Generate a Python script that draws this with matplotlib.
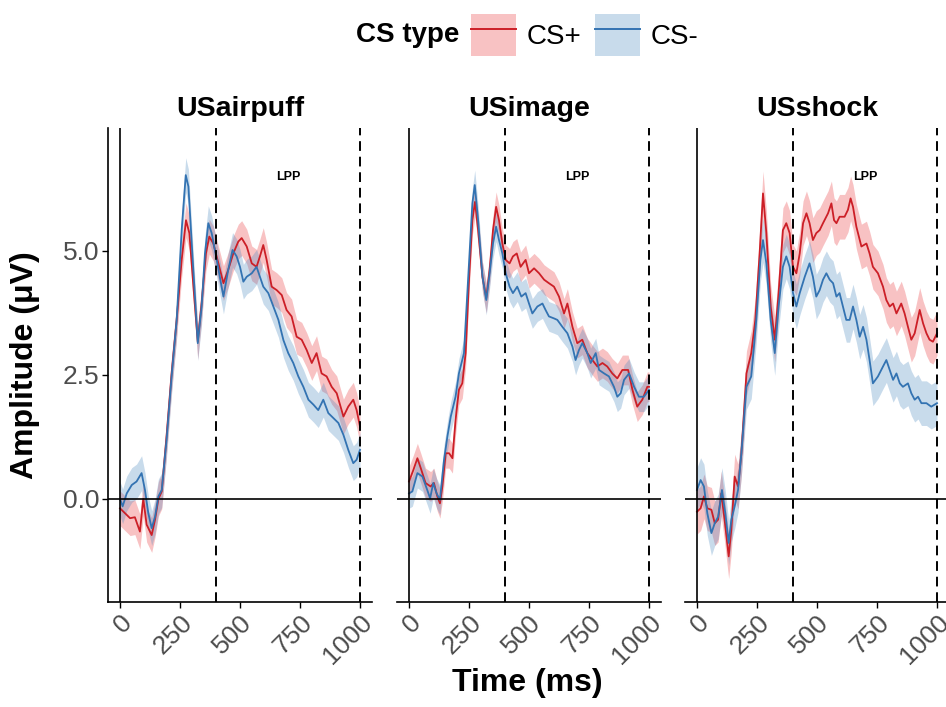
import matplotlib
matplotlib.use("Agg")
import matplotlib.pyplot as plt
from matplotlib.patches import Patch
from matplotlib.lines import Line2D
import numpy as np

plt.rcParams['font.family'] = ['Liberation Sans', 'DejaVu Sans']

# ---- data (time in ms, amplitude in uV) ----
panels = ['USairpuff', 'USimage', 'USshock']
conditions = ['CS+', 'CS-']

airpuff_plus_t = [0, 21, 42, 62, 83, 97, 111, 132, 146, 160, 174, 194, 215, 236, 257, 275, 289, 306, 324,
                  340, 358, 372, 389, 410, 431, 451, 472, 493, 507, 528, 549, 569, 583, 597, 611, 632, 653,
                  674, 694, 715, 736, 757, 778, 799, 819, 840, 861, 882, 903, 931, 951, 972, 986, 1000]
airpuff_plus_v = [-0.19, -0.29, -0.39, -0.37, -0.66, 0.0, -0.52, -0.73, -0.42, 0.0, 0.15, 1.26, 2.53, 3.6,
                  4.82, 5.62, 5.36, 4.28, 3.17, 3.94, 4.95, 5.29, 5.15, 4.75, 4.35, 4.62, 4.95, 5.19, 5.26,
                  5.09, 4.75, 4.68, 4.89, 5.12, 4.82, 4.28, 4.21, 4.11, 3.81, 3.68, 3.27, 3.21, 3.0, 2.74,
                  2.94, 2.53, 2.47, 2.26, 2.13, 1.66, 1.86, 2.0, 1.79, 1.46]
airpuff_minus_t = [0, 11, 28, 49, 69, 90, 104, 118, 132, 146, 160, 174, 194, 215, 236, 257, 274, 285, 303,
                   324, 340, 354, 368, 382, 403, 431, 451, 469, 486, 500, 514, 528, 549, 569, 583, 597, 618,
                   639, 660, 681, 701, 722, 743, 764, 785, 806, 826, 847, 868, 889, 910, 931, 951, 972, 986,
                   1000]
airpuff_minus_v = [0.0, -0.15, 0.11, 0.28, 0.35, 0.52, 0.18, -0.29, -0.59, -0.36, 0.05, 0.18, 1.19, 2.47,
                   3.6, 5.42, 6.53, 6.3, 4.82, 3.14, 3.87, 4.95, 5.56, 5.36, 4.82, 4.08, 4.62, 5.02, 4.89,
                   4.68, 4.38, 4.48, 4.55, 4.68, 4.48, 4.28, 4.15, 3.88, 3.61, 3.2, 2.94, 2.74, 2.47, 2.26,
                   2.0, 1.9, 1.79, 2.0, 1.73, 1.63, 1.53, 1.29, 0.99, 0.72, 0.79, 0.99]

image_plus_t = [0, 18, 35, 49, 69, 90, 104, 118, 129, 139, 153, 167, 181, 194, 208, 222, 236, 250, 264, 275,
                288, 306, 322, 336, 350, 363, 375, 389, 403, 419, 433, 449, 465, 486, 500, 521, 542, 563,
                583, 604, 625, 646, 660, 681, 701, 722, 743, 764, 785, 806, 826, 847, 868, 889, 913, 931,
                951, 972, 993, 1000]
image_plus_v = [0.35, 0.58, 0.82, 0.62, 0.32, 0.25, 0.32, 0.05, -0.09, 0.25, 0.92, 0.92, 0.82, 1.59, 2.2,
                2.33, 2.94, 4.42, 5.62, 5.99, 5.42, 4.48, 4.05, 4.62, 5.42, 5.89, 5.62, 5.15, 4.82, 4.75,
                4.89, 4.95, 4.68, 4.82, 4.55, 4.65, 4.55, 4.42, 4.35, 4.28, 4.08, 3.74, 3.94, 3.47, 3.14,
                3.21, 2.94, 2.8, 2.67, 2.74, 2.67, 2.53, 2.43, 2.6, 2.6, 2.2, 1.86, 2.0, 2.26, 2.26]
image_minus_t = [0, 14, 35, 56, 76, 88, 101, 115, 129, 146, 160, 174, 194, 208, 229, 250, 264, 274, 288,
                 306, 322, 336, 350, 363, 375, 389, 403, 419, 433, 451, 468, 486, 500, 514, 535, 556, 569,
                 583, 604, 618, 639, 660, 681, 694, 708, 722, 743, 757, 778, 792, 813, 833, 854, 868, 882,
                 896, 917, 938, 958, 979, 1000]
image_minus_v = [0.11, 0.15, 0.52, 0.45, 0.18, 0.01, 0.32, 0.11, -0.02, 0.79, 1.26, 1.66, 2.06, 2.53, 2.94,
                 4.75, 5.96, 6.33, 5.62, 4.48, 4.01, 4.55, 5.15, 5.49, 5.22, 4.95, 4.55, 4.28, 4.15, 4.28,
                 4.08, 4.15, 3.94, 3.74, 3.88, 3.94, 3.81, 3.68, 3.64, 3.61, 3.47, 3.34, 3.07, 2.8, 3.0,
                 3.14, 2.94, 2.74, 2.94, 2.6, 2.53, 2.47, 2.26, 2.06, 2.13, 2.4, 2.53, 2.26, 2.06, 2.06, 2.2]

shock_plus_t = [0, 15, 29, 43, 60, 74, 88, 101, 115, 132, 143, 157, 171, 185, 206, 226, 243, 261, 275, 289,
                307, 324, 340, 358, 372, 386, 400, 414, 428, 442, 456, 469, 483, 497, 511, 525, 546, 560,
                571, 581, 594, 615, 629, 640, 650, 664, 685, 706, 719, 733, 754, 775, 789, 803, 817, 831,
                851, 865, 879, 893, 907, 928, 942, 956, 969, 983, 1000]
shock_plus_v = [-0.26, -0.19, 0.05, -0.19, -0.22, -0.49, -0.42, 0.11, -0.42, -1.16, -0.62, 0.45, 0.25,
                0.92, 2.53, 2.94, 3.61, 4.95, 6.16, 5.36, 3.88, 3.21, 4.15, 5.42, 5.56, 5.36, 4.68, 4.55,
                4.95, 5.56, 5.76, 5.56, 5.22, 5.36, 5.42, 5.56, 5.76, 5.96, 5.62, 5.56, 5.69, 5.69, 5.83,
                6.06, 5.89, 5.49, 5.09, 5.15, 4.95, 4.68, 4.55, 4.28, 4.01, 3.88, 3.94, 3.74, 3.94, 3.74,
                3.47, 3.21, 3.34, 3.81, 3.54, 3.34, 3.21, 3.17, 3.34]
shock_minus_t = [0, 15, 29, 43, 60, 74, 88, 104, 118, 132, 143, 157, 171, 185, 206, 226, 247, 264, 275,
                 289, 307, 324, 340, 358, 372, 386, 400, 414, 428, 449, 469, 483, 497, 511, 525, 539, 553,
                 567, 581, 594, 608, 622, 636, 650, 664, 678, 692, 706, 719, 733, 754, 775, 789, 803, 817,
                 831, 845, 858, 879, 893, 907, 921, 935, 956, 976, 1000]
shock_minus_v = [0.18, 0.38, 0.25, -0.29, -0.69, -0.49, -0.36, 0.18, -0.29, -0.89, -0.42, -0.15, 0.18,
                 0.92, 2.26, 2.47, 3.61, 4.82, 5.22, 4.75, 3.61, 2.94, 3.88, 4.68, 4.89, 4.68, 4.15, 3.88,
                 4.15, 4.48, 4.75, 4.48, 4.08, 4.21, 4.42, 4.55, 4.42, 4.35, 4.08, 4.15, 3.88, 3.61, 3.61,
                 3.88, 3.61, 3.27, 3.47, 3.21, 2.8, 2.33, 2.47, 2.67, 2.8, 2.6, 2.4, 2.53, 2.33, 2.26, 2.33,
                 2.13, 2.0, 2.06, 1.93, 1.93, 1.86, 1.93]

# half width of the confidence ribbon per panel
ci_halfwidth = [0.35, 0.3, 0.45]

series = {
    'USairpuff': [(airpuff_plus_t, airpuff_plus_v), (airpuff_minus_t, airpuff_minus_v)],
    'USimage': [(image_plus_t, image_plus_v), (image_minus_t, image_minus_v)],
    'USshock': [(shock_plus_t, shock_plus_v), (shock_minus_t, shock_minus_v)],
}

line_colors = ['#CC1F27', '#3373B2']
fill_colors = ['#E8353A', '#4A88C0']
ribbon_alpha = 0.3
lpp_window = [400, 1000]
y_ticks = [0, 2.5, 5.0]
x_ticks = [0, 250, 500, 750, 1000]

fig = plt.figure(figsize=(9.46, 7.07), dpi=100)

W, H = 946, 707
lefts = [108, 397, 685]
ax_w = 264
ax_bottom = 1 - 602 / H
ax_h = (602 - 128) / H

for i, name in enumerate(panels):
    ax = fig.add_axes([lefts[i] / W, ax_bottom, ax_w / W, ax_h])
    for (t, v), col in zip(series[name], fill_colors):
        t = np.array(t)
        v = np.array(v)
        ax.fill_between(t, v - ci_halfwidth[i], v + ci_halfwidth[i], color=col, alpha=ribbon_alpha, lw=0)
    for (t, v), col in zip(series[name], line_colors):
        ax.plot(t, v, color=col, lw=1.3)

    ax.axhline(0, color='black', lw=1.2)
    ax.axvline(0, color='black', lw=1.2)
    for xv in lpp_window:
        ax.axvline(xv, color='black', lw=1.4, linestyle=(0, (5, 3)))
    ax.text(700, 6.5, 'LPP', fontsize=9, fontweight='bold', ha='center', va='center')

    ax.set_xlim(-50, 1050)
    ax.set_ylim(-2.08, 7.48)
    ax.set_xticks(x_ticks)
    ax.set_xticklabels([str(x) for x in x_ticks])
    ax.tick_params(axis='x', labelsize=19, labelcolor='#4D4D4D', length=4, width=1, pad=2)
    plt.setp(ax.get_xticklabels(), rotation=45, ha='right', va='top', rotation_mode='anchor')

    ax.spines['top'].set_visible(False)
    ax.spines['right'].set_visible(False)
    ax.spines['bottom'].set_linewidth(1.2)
    if i == 0:
        ax.spines['left'].set_linewidth(1.2)
        ax.set_yticks(y_ticks)
        ax.set_yticklabels(['%.1f' % y for y in y_ticks])
        ax.tick_params(axis='y', labelsize=19, labelcolor='#4D4D4D', length=4, width=1, pad=2)
    else:
        ax.spines['left'].set_visible(False)
        ax.set_yticks([])

    ax.set_title(name, fontsize=20.5, fontweight='bold', pad=9)

fig.text(25 / W, 1 - 365 / H, 'Amplitude (\u03bcV)', rotation=90, fontsize=23, fontweight='bold',
         ha='center', va='center')
fig.text(527 / W, 1 - 683 / H, 'Time (ms)', fontsize=23, fontweight='bold', ha='center', va='center')

# legend
handles = []
for fc, lc in zip(fill_colors, line_colors):
    handles.append((Patch(facecolor=fc, alpha=ribbon_alpha, edgecolor='none'), Line2D([], [], color=lc, lw=1.4)))
fig.text(408 / W, 1 - 35 / H, 'CS type', fontsize=20, fontweight='bold', ha='center', va='center')
fig.legend(handles, conditions, ncol=2, loc='center', bbox_to_anchor=(585 / W, 1 - 35 / H), frameon=False,
           fontsize=20, handlelength=1.6, handleheight=1.95, columnspacing=0.5, handletextpad=0.4,
           borderpad=0, borderaxespad=0)

fig.savefig('out.png', dpi=100)
